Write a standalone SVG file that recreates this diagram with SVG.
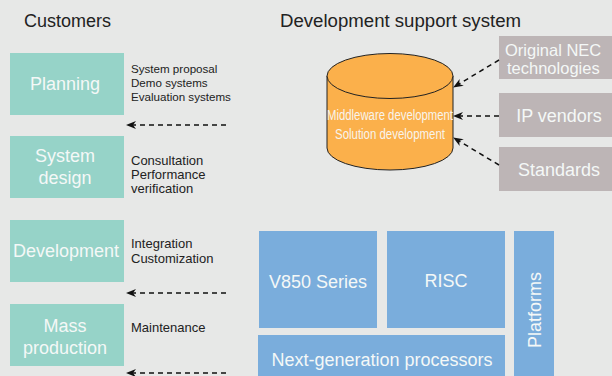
<svg xmlns="http://www.w3.org/2000/svg" width="612" height="376" viewBox="0 0 612 376">
<defs>
<style>
.t{font-family:"Liberation Sans",Arial,sans-serif}
.title{font-size:18px;fill:#222}
.lbl{font-size:18px;fill:#F4F8F7}
.lbl2{font-size:16.5px;fill:#F4F8F7}
.side{font-size:13px;fill:#222}
.side2{font-size:11.6px;fill:#222}
.teal{fill:#96D3C8}
.grey{fill:#BDB5B6}
.blue{fill:#7AADDC}
.dash{stroke:#111;stroke-width:1.5;stroke-dasharray:5 4;fill:none}
</style>
<marker id="ah" viewBox="0 0 10 10" refX="9" refY="5" markerWidth="10" markerHeight="10" markerUnits="userSpaceOnUse" orient="auto">
<path d="M0,1 L10,5 L0,9 L3,5 Z" fill="#111"/>
</marker>
</defs>
<rect width="612" height="376" fill="#E7E8E7"/>
<text class="t title" x="24" y="27">Customers</text>
<text class="t title" x="280" y="27" textLength="241" lengthAdjust="spacingAndGlyphs">Development support system</text>

<g id="planning">
<rect class="teal" x="10" y="53" width="114" height="62"/>
<text class="t lbl" x="65" y="90" text-anchor="middle">Planning</text>
</g>
<g id="planning-notes">
<text class="t side2" x="131" y="73">System proposal</text>
<text class="t side2" x="131" y="86.5">Demo systems</text>
<text class="t side2" x="131" y="101">Evaluation systems</text>
</g>
<g id="system-design">
<rect class="teal" x="10" y="136" width="114" height="62"/>
<text class="t lbl" x="65" y="162" text-anchor="middle">System</text>
<text class="t lbl" x="65" y="184" text-anchor="middle">design</text>
</g>
<g id="system-design-notes">
<text class="t side" x="131" y="165">Consultation</text>
<text class="t side" x="131" y="179">Performance</text>
<text class="t side" x="131" y="193">verification</text>
</g>
<g id="development">
<rect class="teal" x="10" y="220" width="114" height="62"/>
<text class="t lbl" x="66" y="257" text-anchor="middle">Development</text>
</g>
<g id="development-notes">
<text class="t side" x="131" y="248">Integration</text>
<text class="t side" x="131" y="263">Customization</text>
</g>
<g id="mass-production">
<rect class="teal" x="10" y="304" width="114" height="62"/>
<text class="t lbl" x="65" y="332" text-anchor="middle">Mass</text>
<text class="t lbl" x="65" y="354" text-anchor="middle">production</text>
</g>
<g id="mass-production-notes">
<text class="t side" x="131" y="332">Maintenance</text>
</g>

<g id="cylinder">
<path d="M327,76 L327,148 A63,22 0 0 0 453,148 L453,76" fill="#FBB04B" stroke="#222" stroke-width="1"/>
<ellipse cx="390" cy="76" rx="63" ry="22.5" fill="#FBB04B" stroke="#222" stroke-width="1"/>
<text class="t" x="390" y="120" text-anchor="middle" font-size="14" fill="#F8F4EC" textLength="126" lengthAdjust="spacingAndGlyphs">Middleware development</text>
<text class="t" x="390" y="139" text-anchor="middle" font-size="14" fill="#F8F4EC" textLength="110" lengthAdjust="spacingAndGlyphs">Solution development</text>
</g>

<g id="original-nec">
<rect class="grey" x="499" y="36" width="113" height="43"/>
<text class="t lbl2" x="505" y="55.5">Original NEC</text>
<text class="t lbl2" x="507" y="74">technologies</text>
</g>
<g id="ip-vendors">
<rect class="grey" x="499" y="93" width="113" height="44"/>
<text class="t lbl" x="559" y="122" text-anchor="middle">IP vendors</text>
</g>
<g id="standards">
<rect class="grey" x="499" y="147" width="113" height="44"/>
<text class="t lbl" x="559" y="176" text-anchor="middle">Standards</text>
</g>

<g id="v850">
<rect class="blue" x="259" y="231" width="118" height="97"/>
<text class="t lbl" x="318" y="288" text-anchor="middle">V850 Series</text>
</g>
<g id="risc">
<rect class="blue" x="387" y="231" width="118" height="97"/>
<text class="t lbl" x="446" y="287" text-anchor="middle">RISC</text>
</g>
<g id="next-gen">
<rect class="blue" x="258" y="335" width="247" height="41"/>
<text class="t lbl" x="382" y="366" text-anchor="middle">Next-generation processors</text>
</g>
<g id="platforms">
<rect class="blue" x="514" y="231" width="40" height="145"/>
<text class="t lbl" transform="translate(541,310) rotate(-90)" text-anchor="middle">Platforms</text>
</g>

<g id="connectors">
<line class="dash" x1="226" y1="125" x2="127" y2="125" marker-end="url(#ah)"/>
<line class="dash" x1="226" y1="293" x2="127" y2="293" marker-end="url(#ah)"/>
<line class="dash" x1="226" y1="373" x2="127" y2="373" marker-end="url(#ah)"/>
<line class="dash" x1="499" y1="60" x2="454" y2="87" marker-end="url(#ah)"/>
<line class="dash" x1="499" y1="116" x2="454" y2="116" marker-end="url(#ah)"/>
<line class="dash" x1="499" y1="165" x2="454" y2="138" marker-end="url(#ah)"/>
</g>
</svg>
